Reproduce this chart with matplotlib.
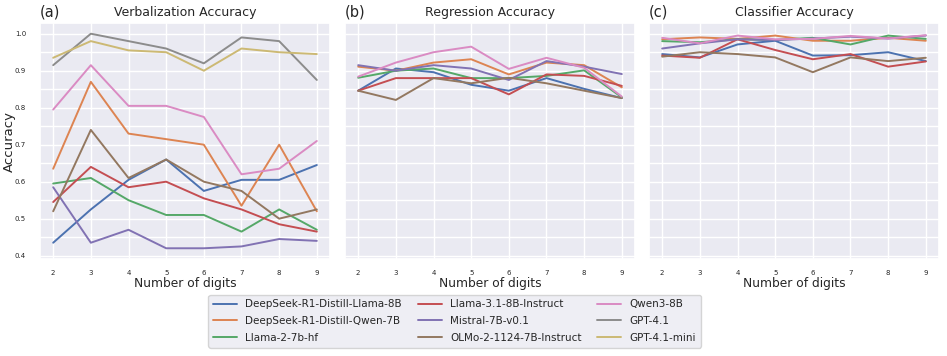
import matplotlib
matplotlib.use("Agg")
import matplotlib.pyplot as plt
from matplotlib.ticker import MultipleLocator
import seaborn as sns

sns.set_theme(style="darkgrid")
plt.rcParams["font.family"] = ["DejaVu Sans"]

DIGITS = [2, 3, 4, 5, 6, 7, 8, 9]

MODELS = [
    "DeepSeek-R1-Distill-Llama-8B",
    "DeepSeek-R1-Distill-Qwen-7B",
    "Llama-2-7b-hf",
    "Llama-3.1-8B-Instruct",
    "Mistral-7B-v0.1",
    "OLMo-2-1124-7B-Instruct",
    "Qwen3-8B",
    "GPT-4.1",
    "GPT-4.1-mini",
]

# verbalization accuracy (all models)
verb_ds_llama = [0.435, 0.525, 0.605, 0.66, 0.575, 0.605, 0.605, 0.645]
verb_ds_qwen = [0.635, 0.87, 0.73, 0.715, 0.70, 0.535, 0.70, 0.52]
verb_llama2 = [0.595, 0.61, 0.55, 0.51, 0.51, 0.465, 0.525, 0.47]
verb_llama31 = [0.545, 0.64, 0.585, 0.60, 0.555, 0.525, 0.485, 0.465]
verb_mistral = [0.585, 0.435, 0.47, 0.42, 0.42, 0.425, 0.445, 0.44]
verb_olmo = [0.52, 0.74, 0.61, 0.66, 0.60, 0.575, 0.50, 0.525]
verb_qwen3 = [0.795, 0.915, 0.805, 0.805, 0.775, 0.62, 0.635, 0.71]
verb_gpt41 = [0.915, 1.0, 0.98, 0.96, 0.92, 0.99, 0.98, 0.875]
verb_gpt41_mini = [0.935, 0.98, 0.955, 0.95, 0.90, 0.96, 0.95, 0.945]

# regression probe accuracy (open models only)
reg_ds_llama = [0.846, 0.906, 0.896, 0.862, 0.846, 0.88, 0.851, 0.826]
reg_ds_qwen = [0.911, 0.90, 0.922, 0.931, 0.89, 0.922, 0.915, 0.855]
reg_llama2 = [0.881, 0.90, 0.906, 0.88, 0.88, 0.886, 0.901, 0.828]
reg_llama31 = [0.846, 0.88, 0.88, 0.88, 0.836, 0.89, 0.886, 0.859]
reg_mistral = [0.915, 0.90, 0.915, 0.906, 0.875, 0.926, 0.911, 0.891]
reg_olmo = [0.846, 0.821, 0.88, 0.866, 0.881, 0.866, 0.846, 0.826]
reg_qwen3 = [0.884, 0.922, 0.95, 0.965, 0.905, 0.935, 0.908, 0.83]

# classifier probe accuracy (open models only)
clf_ds_llama = [0.945, 0.936, 0.971, 0.981, 0.941, 0.942, 0.95, 0.926]
clf_ds_qwen = [0.985, 0.99, 0.986, 0.995, 0.981, 0.981, 0.989, 0.981]
clf_llama2 = [0.98, 0.977, 0.985, 0.983, 0.989, 0.971, 0.995, 0.986]
clf_llama31 = [0.941, 0.935, 0.985, 0.956, 0.931, 0.945, 0.911, 0.925]
clf_mistral = [0.96, 0.974, 0.985, 0.983, 0.987, 0.992, 0.987, 0.995]
clf_olmo = [0.938, 0.95, 0.945, 0.936, 0.896, 0.936, 0.926, 0.935]
clf_qwen3 = [0.989, 0.974, 0.995, 0.985, 0.986, 0.994, 0.987, 0.996]

PANELS = [
    ("(a)", "Verbalization Accuracy",
     [verb_ds_llama, verb_ds_qwen, verb_llama2, verb_llama31, verb_mistral,
      verb_olmo, verb_qwen3, verb_gpt41, verb_gpt41_mini]),
    ("(b)", "Regression Accuracy",
     [reg_ds_llama, reg_ds_qwen, reg_llama2, reg_llama31, reg_mistral,
      reg_olmo, reg_qwen3]),
    ("(c)", "Classifier Accuracy",
     [clf_ds_llama, clf_ds_qwen, clf_llama2, clf_llama31, clf_mistral,
      clf_olmo, clf_qwen3]),
]

colors = sns.color_palette("deep", len(MODELS))

fig = plt.figure(figsize=(9.47, 3.56), dpi=100)
lefts = [40 / 947, 345 / 947, 649 / 947]
width = 290 / 947
bottom = 97 / 356
height = 236 / 356

axes = []
for left in lefts:
    ax = fig.add_axes([left, bottom, width, height],
                      sharey=axes[0] if axes else None)
    axes.append(ax)

for ax, (tag, title, series) in zip(axes, PANELS):
    for vals, name, col in zip(series, MODELS, colors):
        ax.plot(DIGITS, vals, color=col, linewidth=1.4, label=name)
    ax.set_title(title, fontsize=9, pad=5)
    ax.set_title(tag, loc="left", fontsize=10.5, pad=5)
    ax.set_xlabel("Number of digits", fontsize=8.8)
    ax.xaxis.set_label_coords(0.5, -0.075)
    ax.set_xticks(DIGITS)
    ax.yaxis.set_major_locator(MultipleLocator(0.1))
    ax.yaxis.set_minor_locator(MultipleLocator(0.05))
    ax.grid(which="minor", axis="y", color="white", linewidth=1.0)
    ax.tick_params(axis="x", labelsize=5, pad=2)
    ax.tick_params(axis="y", labelsize=5, pad=4)

axes[0].set_ylabel("Accuracy", fontsize=9.5)
axes[0].yaxis.set_label_coords(-0.083, 0.5)
for ax in axes[1:]:
    ax.tick_params(axis="y", labelleft=False)

handles, labels = axes[0].get_legend_handles_labels()
fig.legend(handles, labels, loc="upper center", bbox_to_anchor=(0.48, 0.187),
           ncol=3, fontsize=7.5, frameon=True, handlelength=2.3,
           columnspacing=1.5, labelspacing=0.65, borderpad=0.45)

fig.savefig("out.png", dpi=100)
